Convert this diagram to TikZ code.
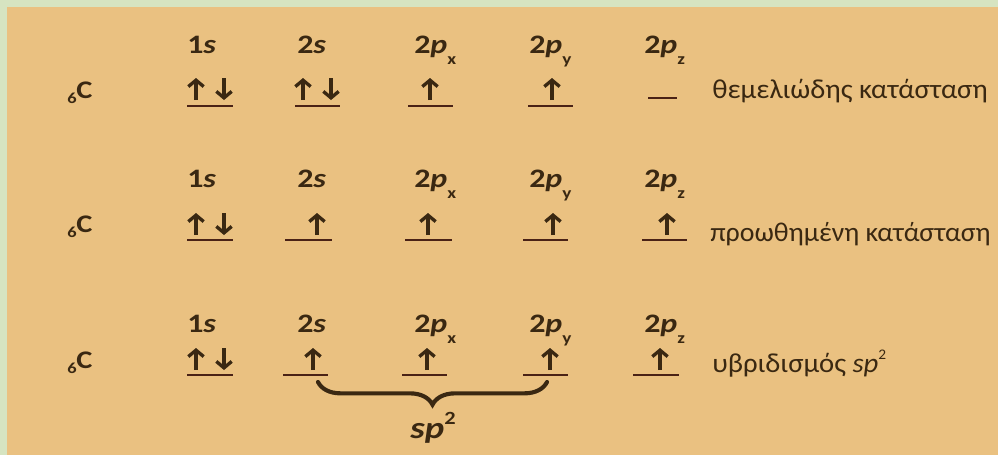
\documentclass[tikz,border=0pt]{standalone}
\usepackage{fontspec}
\setmainfont{Carlito}
\newfontfamily\labfont[FakeStretch=1.2]{Carlito}
\newfontfamily\descfont[FakeStretch=1.05]{Carlito}
\newfontfamily\descfontb[FakeStretch=1.03]{Carlito}
\usetikzlibrary{arrows.meta,decorations.pathreplacing}
\definecolor{bgtan}{HTML}{EAC181}
\definecolor{bggreen}{HTML}{D6E4C1}
\definecolor{ink}{HTML}{3A2812}
\definecolor{lineink}{HTML}{4A2216}
\newcommand\sorb[1]{\bfseries #1\textit{s}}
\newcommand\porb[1]{\bfseries 2\textit{p}\raisebox{-0.42em}{\fontsize{12}{12}\selectfont #1}}
\tikzset{
  lab/.style={anchor=base west, inner sep=0, text=ink, font=\labfont\fontsize{20}{22}\selectfont},
  desc/.style={anchor=base west, inner sep=0, text=ink, font=\descfont\fontsize{20.5}{22}\selectfont},
  elem/.style={anchor=base west, inner sep=0, text=ink, font=\labfont\bfseries\fontsize{19}{20}\selectfont},
  anum/.style={anchor=base east, inner sep=0, text=ink, font=\labfont\bfseries\fontsize{11.5}{12}\selectfont},
  lvl/.style={draw=lineink, line width=1.7pt},
  spin/.style={draw=ink, line width=2.5pt, -{Straight Barb[length=4.8pt,width=11.5pt]}},
}
\begin{document}
\begin{tikzpicture}[x=0.75pt,y=-0.75pt]
\useasboundingbox (0,0) rectangle (998,455);
\clip (0,0) rectangle (998,455);
\fill[bggreen] (0,0) rectangle (998,455);
\fill[bgtan] (7,7) rectangle (998,455);

% ---------- row 1 : ground state
\node[anum] (n1) at (77,103) {6};
\node[elem] (c1) at (76,98) {C};
\node[lab] (a1) at (187,53) {\sorb{1}};
\node[lab] (b1) at (297,53) {\sorb{2}};
\node[lab] (x1) at (414,53) {\porb{x}};
\node[lab] (y1) at (529,53) {\porb{y}};
\node[lab] (z1) at (644,53) {\porb{z}};
\node[desc] (d1) at (712,98) {θεμελιώδης κατάσταση};
\draw[lvl] (187,106) -- (233,106);
\draw[lvl] (295,106) -- (340,106);
\draw[lvl] (408,106) -- (453,106);
\draw[lvl] (528,106) -- (573,106);
\draw[lvl] (648,98) -- (677,98);
\draw[spin] (196,100) -- (196,78);
\draw[spin] (224,78) -- (224,100);
\draw[spin] (303,100) -- (303,78);
\draw[spin] (331,78) -- (331,100);
\draw[spin] (430,100) -- (430,78);
\draw[spin] (552,100) -- (552,78);

% ---------- row 2 : excited state
\node[anum] (n2) at (77,237) {6};
\node[elem] (c2) at (76,232) {C};
\node[lab] (a2) at (187,187) {\sorb{1}};
\node[lab] (b2) at (297,187) {\sorb{2}};
\node[lab] (x2) at (414,187) {\porb{x}};
\node[lab] (y2) at (529,187) {\porb{y}};
\node[lab] (z2) at (644,187) {\porb{z}};
\node[desc, font=\descfontb\fontsize{20.3}{22}\selectfont] (d2) at (710,241) {προωθημένη κατάσταση};
\draw[lvl] (187,240) -- (233,240);
\draw[lvl] (285,240) -- (332,240);
\draw[lvl] (405,240) -- (452,240);
\draw[lvl] (523,240) -- (568,240);
\draw[lvl] (642,240) -- (687,240);
\draw[spin] (196,235) -- (196,213);
\draw[spin] (224,213) -- (224,235);
\draw[spin] (317,235) -- (317,213);
\draw[spin] (428,235) -- (428,213);
\draw[spin] (553,235) -- (553,213);
\draw[spin] (667,235) -- (667,213);

% ---------- row 3 : sp2 hybridisation
\node[anum] (n3) at (77,373) {6};
\node[elem] (c3) at (76,368) {C};
\node[lab] (a3) at (187,332) {\sorb{1}};
\node[lab] (b3) at (297,332) {\sorb{2}};
\node[lab] (x3) at (414,332) {\porb{x}};
\node[lab] (y3) at (529,332) {\porb{y}};
\node[lab] (z3) at (644,332) {\porb{z}};
\node[desc] (d3) at (712,372) {υβριδισμός \textit{sp}\raisebox{0.45em}{\fontsize{11}{11}\selectfont 2}};
\draw[lvl] (187,375) -- (233,375);
\draw[lvl] (283,375) -- (328,375);
\draw[lvl] (402,375) -- (447,375);
\draw[lvl] (523,375) -- (568,375);
\draw[lvl] (633,375) -- (679,375);
\draw[spin] (196,370) -- (196,348);
\draw[spin] (224,348) -- (224,370);
\draw[spin] (313,370) -- (313,348);
\draw[spin] (427,370) -- (427,348);
\draw[spin] (550,370) -- (550,348);
\draw[spin] (660,370) -- (660,348);

\coordinate (bl) at (318,382);
\coordinate (br) at (547,382);
\draw[draw=ink, line width=3.1pt, line cap=round, decorate,
      decoration={brace, mirror, amplitude=17pt}] (bl) -- (br);
\node[anchor=base, inner sep=0, text=ink, font=\labfont\bfseries\fontsize{23}{24}\selectfont] (sp) at (433,438) {\textit{sp}\raisebox{0.45em}{\fontsize{14}{14}\selectfont 2}};
\end{tikzpicture}
\end{document}
